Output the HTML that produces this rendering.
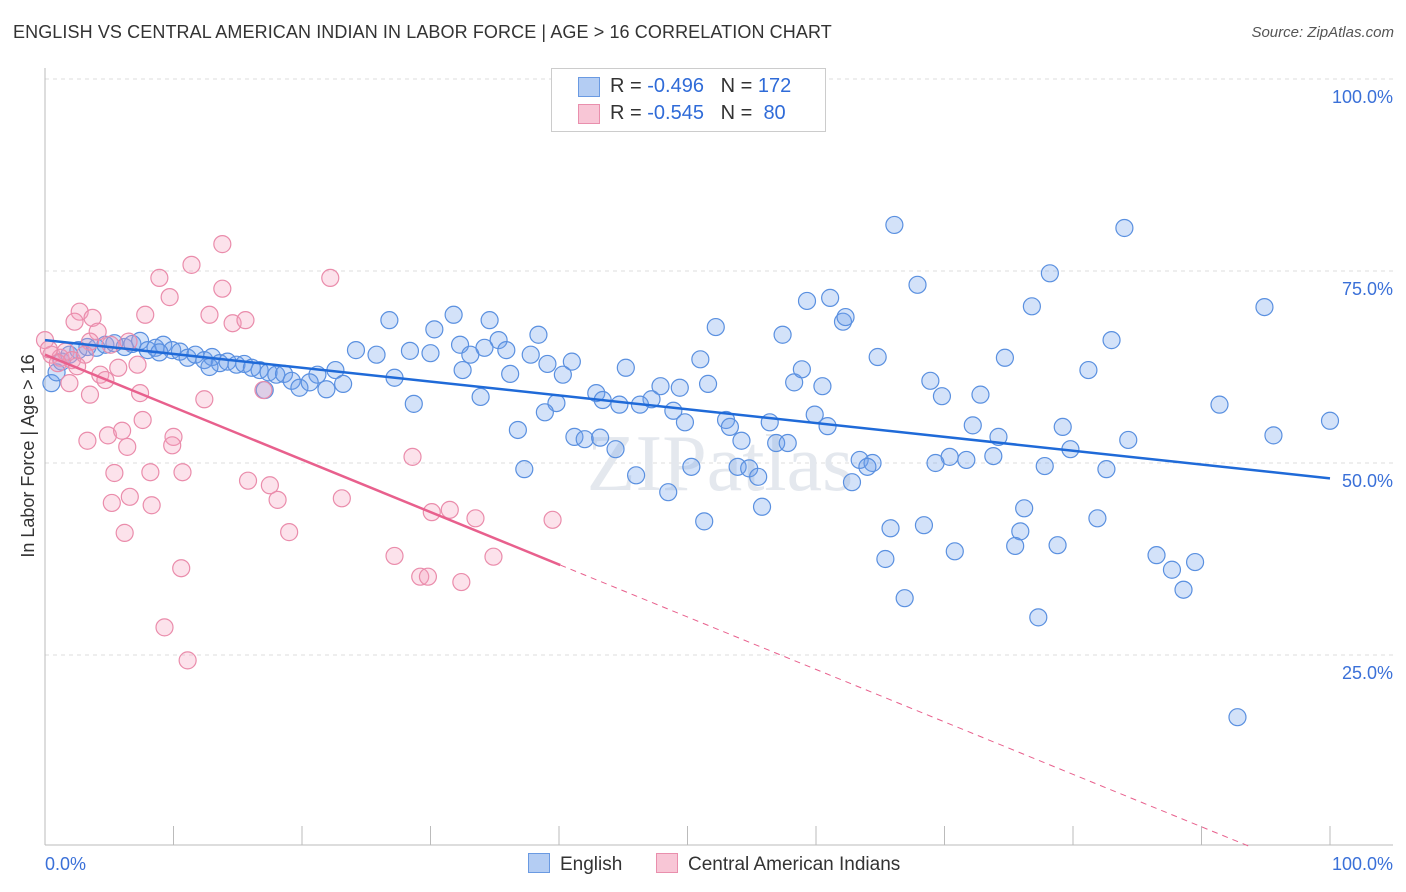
<!DOCTYPE html>
<html><head><meta charset="utf-8"><style>
body{margin:0;background:#fff;font-family:"Liberation Sans",sans-serif;}
#wrap{position:relative;width:1406px;height:892px;overflow:hidden;}
.t{position:absolute;white-space:nowrap;}
</style></head><body>
<div id="wrap">
<div class="t" style="left:13px;top:22px;font-size:18px;color:#333;letter-spacing:0.1px">ENGLISH VS CENTRAL AMERICAN INDIAN IN LABOR FORCE | AGE &gt; 16 CORRELATION CHART</div>
<div class="t" style="right:12px;top:24px;font-size:15px;color:#555;font-style:italic">Source: ZipAtlas.com</div>
<svg id="svg" width="1406" height="892" style="position:absolute;left:0;top:0"></svg>
</div>
<script>
const xTicks=[0,10,20,30,40,50,60,70,80,90,100];
const yTicks=[25,50,75,100];
const yTickLabels=["25.0%","50.0%","75.0%","100.0%"];
const englishX=[66.1,84.0,78.2,67.9,94.9,76.8,59.3,61.1,62.1,62.3,52.2,57.4,83.0,64.8,74.7,81.2,51.0,68.9,69.8,72.8,91.4,100,95.6,72.2,74.2,79.2,84.3,79.8,73.8,70.4,71.7,69.3,77.8,82.6,63.4,64.4,64.0,62.8,65.8,68.4,65.4,70.8,76.2,75.9,75.5,78.8,81.9,86.5,87.7,89.5,88.6,66.9,77.3,92.8,26.8,31.8,34.6,30.3,38.4,35.3,32.3,34.2,35.9,24.2,28.4,25.8,30.0,33.1,37.8,39.1,41.0,45.2,40.3,36.2,32.5,27.2,22.6,21.2,23.2,47.9,49.4,51.6,42.9,43.4,44.7,47.2,46.3,39.8,38.9,33.9,28.7,48.9,53.0,53.3,49.8,56.4,59.9,60.9,54.2,56.9,57.8,36.8,41.2,42.0,44.4,46.0,50.3,53.9,54.8,55.5,37.3,48.5,51.3,55.8,58.3,58.9,60.5,43.2,0.5,0.9,1.3,1.9,2.6,3.3,4.0,4.7,5.4,6.2,6.8,7.4,8.0,8.6,9.2,9.9,10.5,11.1,11.7,12.4,13.0,13.6,14.2,14.9,15.5,16.1,16.7,17.4,18.0,18.6,19.2,19.8,20.6,17.1,21.9,12.8,8.9];
const englishY=[81.0,80.6,74.7,73.2,70.3,70.4,71.1,71.5,68.4,69.0,67.7,66.7,66.0,63.8,63.7,62.1,63.5,60.7,58.7,58.9,57.6,55.5,53.6,54.9,53.4,54.7,53.0,51.8,50.9,50.8,50.4,50.0,49.6,49.2,50.4,50.0,49.5,47.5,41.5,41.9,37.5,38.5,44.1,41.1,39.2,39.3,42.8,38.0,36.1,37.1,33.5,32.4,29.9,16.9,68.6,69.3,68.6,67.4,66.7,66.0,65.4,65.0,64.7,64.7,64.6,64.1,64.3,64.1,64.1,62.9,63.2,62.4,61.5,61.6,62.1,61.1,62.1,61.5,60.3,60.0,59.8,60.3,59.1,58.2,57.6,58.3,57.6,57.8,56.6,58.6,57.7,56.8,55.6,54.7,55.3,55.3,56.3,54.8,52.9,52.6,52.6,54.3,53.4,53.1,51.8,48.4,49.5,49.5,49.3,48.2,49.2,46.2,42.4,44.3,60.5,62.2,60.0,53.3,60.4,61.8,63.2,64.1,64.7,65.1,65.0,65.4,65.6,65.1,65.5,65.9,64.7,65.0,65.4,64.7,64.5,63.7,64.1,63.4,63.8,63.0,63.2,62.8,62.9,62.4,62.1,61.8,61.5,61.6,60.7,59.8,60.5,59.5,59.6,62.5,64.4];
const camX=[0,0.5,1.2,1.6,2.1,2.7,2.3,3.7,4.1,3.5,3.1,5.1,6.5,5.7,4.3,4.7,1.9,3.5,7.4,7.2,7.8,9.7,8.9,11.4,13.8,13.8,12.8,14.6,15.6,22.2,7.6,4.9,6.0,6.4,3.3,10.0,9.9,5.4,8.2,10.7,12.4,6.6,5.2,8.3,6.2,15.8,17.5,18.1,17.0,19.0,23.1,28.6,30.1,31.5,33.5,39.5,27.2,34.9,29.2,29.8,32.4,10.6,9.3,11.1,1.0,2.5,0.3];
const camY=[66.0,64.1,63.7,64.5,63.4,69.7,68.4,68.9,67.1,65.8,64.1,65.4,65.8,62.4,61.5,60.8,60.4,58.9,59.1,62.8,69.3,71.6,74.1,75.8,78.5,72.7,69.3,68.2,68.6,74.1,55.6,53.6,54.2,52.1,52.9,53.4,52.3,48.7,48.8,48.8,58.3,45.6,44.8,44.5,40.9,47.7,47.1,45.2,59.5,41.0,45.4,50.8,43.6,43.9,42.8,42.6,37.9,37.8,35.2,35.2,34.5,36.3,28.6,24.3,63.0,62.6,64.8];
const trendEng=[66.0,48.0];
const trendCam=[64.1,-0.683,40.1];

const NS="http://www.w3.org/2000/svg";
const svg=document.getElementById('svg');
const X=v=>45+v*12.85;
const Y=v=>847-v*7.68;
function mk(tag,attrs,parent){const e=document.createElementNS(NS,tag);for(const k in attrs)e.setAttribute(k,attrs[k]);(parent||svg).appendChild(e);return e;}

yTicks.forEach((t,i)=>{
  const g=mk('line',{x1:45,x2:1393,y1:Y(t),y2:Y(t),stroke:'#ddd','stroke-dasharray':'4,4'});
  
  
  const tx=mk('text',{x:1393,y:Y(t)+24,'text-anchor':'end','font-size':18,fill:'#3a70d8','font-family':'Liberation Sans'});
  tx.textContent=yTickLabels[i];
  
  
});
let ax=mk('line',{x1:45,x2:45,y1:68,y2:845,stroke:'#bbb'});


ax=mk('line',{x1:45,x2:1393,y1:845,y2:845,stroke:'#bbb'});


xTicks.forEach(t=>{
  const l=mk('line',{x1:X(t),x2:X(t),y1:826,y2:845,stroke:'#bbb'});
  
  
});
let tl=mk('text',{x:45,y:870,'font-size':18,fill:'#3a70d8','font-family':'Liberation Sans'});tl.textContent='0.0%';


tl=mk('text',{x:1393,y:870,'text-anchor':'end','font-size':18,fill:'#3a70d8','font-family':'Liberation Sans'});tl.textContent='100.0%';


tl=mk('text',{x:0,y:0,transform:'translate(34,456) rotate(-90)','text-anchor':'middle','font-size':18,fill:'#333','font-family':'Liberation Sans'});tl.textContent='In Labor Force | Age > 16';


tl=mk('text',{x:720,y:490,'text-anchor':'middle','font-size':80,fill:'#e4e8ee','font-family':'Liberation Serif'});tl.textContent='ZIPatlas';



englishX.forEach((v,i)=>{
  const c=mk('circle',{cx:X(v),cy:Y(englishY[i]),r:8.5,fill:'rgba(110,160,235,0.3)',stroke:'#5a90e0','stroke-width':1.2});
  
  
});
camX.forEach((v,i)=>{
  const c=mk('circle',{cx:X(v),cy:Y(camY[i]),r:8.5,fill:'rgba(245,160,190,0.3)',stroke:'#ea8cab','stroke-width':1.2});
  
  
});
let ln=mk('line',{x1:X(0),y1:Y(trendEng[0]),x2:X(100),y2:Y(trendEng[1]),stroke:'#1f6ad8','stroke-width':2.5});


const ce=trendCam[2], ye=trendCam[0]+trendCam[1]*ce, x0=-trendCam[0]/trendCam[1];
ln=mk('line',{x1:X(0),y1:Y(trendCam[0]),x2:X(ce),y2:Y(ye),stroke:'#e8608d','stroke-width':2.5});


ln=mk('line',{x1:X(ce),y1:Y(ye),x2:X(x0),y2:Y(0),stroke:'#e8608d','stroke-width':1,'stroke-dasharray':'6,5'});


</script>
<div class="t" style="left:551px;top:68px;width:273px;height:62px;border:1px solid #ccc;background:#fff;font-size:20px;color:#333">
  <div style="position:absolute;left:26px;top:8px;width:20px;height:18px;background:#b4cdf3;border:1px solid #6a9ae2"></div>
  <div class="t" style="left:58px;top:6px">R = <span style="color:#2f6bd8">-0.496</span>&nbsp;&nbsp;&nbsp;N = <span style="color:#2f6bd8">172</span></div>
  <div style="position:absolute;left:26px;top:35px;width:20px;height:18px;background:#f8c6d6;border:1px solid #e98fad"></div>
  <div class="t" style="left:58px;top:33px">R = <span style="color:#2f6bd8">-0.545</span>&nbsp;&nbsp;&nbsp;N = &nbsp;<span style="color:#2f6bd8">80</span></div>
</div>
<div class="t" style="left:528px;top:853px;font-size:19px;color:#333"><span style="display:inline-block;width:20px;height:18px;background:#b4cdf3;border:1px solid #6a9ae2;vertical-align:-3px;margin-right:10px"></span>English</div>
<div class="t" style="left:656px;top:853px;font-size:19px;color:#333"><span style="display:inline-block;width:20px;height:18px;background:#f8c6d6;border:1px solid #e98fad;vertical-align:-3px;margin-right:10px"></span>Central American Indians</div>
</body></html>
